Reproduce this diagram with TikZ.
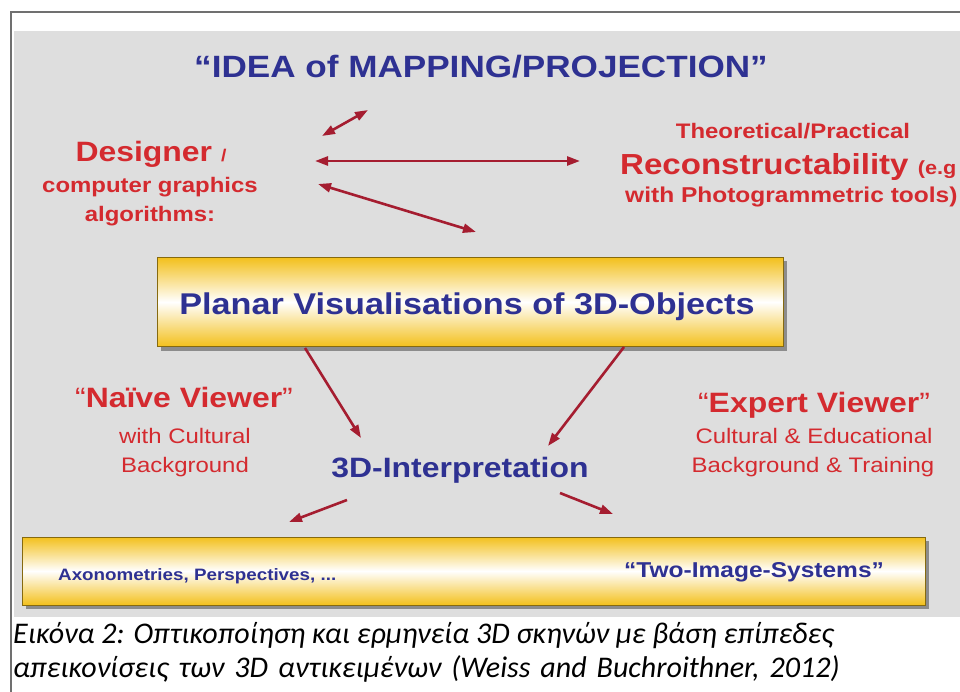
\documentclass[tikz,border=0pt]{standalone}
\usepackage{fontspec}
\setmainfont{Liberation Sans}[FakeStretch=1.14]
\newfontfamily\captionfont{Carlito}
\usetikzlibrary{arrows.meta,shadows}

\definecolor{panelgray}{HTML}{DEDEDE}
\definecolor{framegray}{HTML}{707070}
\definecolor{ideablue}{HTML}{2E3192}
\definecolor{viewred}{HTML}{D42A2F}
\definecolor{arrowred}{HTML}{A51D30}
\definecolor{bargold}{HTML}{F3C01C}

\tikzset{
  txt/.style={inner sep=0pt, anchor=base},
  bluelabel/.style={txt, text=ideablue, font=\bfseries\fontsize{#1}{#1}\selectfont},
  redlabel/.style={txt, text=viewred, font=\bfseries\fontsize{#1}{#1}\selectfont},
  redplain/.style={txt, text=viewred, font=\fontsize{#1}{#1}\selectfont},
  goldbar/.style={draw=bargold!55!black, line width=0.6pt, top color=bargold,
    bottom color=bargold, middle color=white, inner sep=0pt,
    drop shadow={shadow xshift=4pt, shadow yshift=-4pt, fill=black!45, opacity=1}},
  captext/.style={anchor=base west, inner sep=0pt, font=\captionfont\itshape\fontsize{30}{34}\selectfont},
  >={Triangle[length=13pt,width=9pt]},
  oneway/.style={draw=arrowred, line width=2.6pt, ->},
  twoway/.style={draw=arrowred, line width=2.6pt, <->},
}

\begin{document}
\begin{tikzpicture}[x=1pt,y=-1pt]
\useasboundingbox (0,0) rectangle (960,692);
\clip (0,0) rectangle (960,692);
% panel and frame
\fill[panelgray] (14,31) rectangle (960,617);
\draw[framegray, line width=1.3pt] (11,692) -- (11,12) -- (960,12);

% heading
\node[bluelabel=30.8] (idea) at (481,78) {“IDEA of MAPPING/PROJECTION”};

% left block: who makes the pictures
\node[redlabel=28] (designer) at (151,162) {Designer {\fontsize{17}{17}\selectfont/}};
\node[redlabel=21] (cgraph) at (150,193) {computer graphics};
\node[redlabel=21] (algo) at (150,222) {algorithms:};

% right block: reconstruction
\node[redlabel=21] (theory) at (793,139) {Theoretical/Practical};
\node[redlabel=29, anchor=base west] (recon) at (620,175) {Reconstructability {\fontsize{19}{19}\selectfont(e.g}};
\node[redlabel=21.5, anchor=base west] (photo) at (625,203) {with Photogrammetric tools)};

% central bar
\node[goldbar, minimum width=626, minimum height=89] (planar) at (470,302) {};
\node[bluelabel=30] (planartxt) at (467,315) {Planar Visualisations of 3D-Objects};

% the two viewers
\node[redlabel=28] (naive) at (184,407) {{\mdseries“}Naïve Viewer{\mdseries”}};
\node[redplain=21] (naivea) at (185,443) {with Cultural};
\node[redplain=21] (naiveb) at (185,472) {Background};
\node[redlabel=28] (expert) at (814,412) {{\mdseries“}Expert Viewer{\mdseries”}};
\node[redplain=21] (experta) at (814,443) {Cultural \& Educational};
\node[redplain=21] (expertb) at (813,472) {Background \& Training};
\node[bluelabel=28] (interp) at (460,477) {3D-Interpretation};

% bottom bar
\node[goldbar, minimum width=903, minimum height=68] (techbar) at (473.5,571) {};
\node[bluelabel=16.5, anchor=base west] (axono) at (58,580) {Axonometries, Perspectives, ...};
\node[bluelabel=21.5, anchor=base west] (twoimg) at (624,577) {“Two-Image-Systems”};

% arrow ends
\coordinate (dsgA) at (322,136);  \coordinate (ideaA) at (368,110);
\coordinate (dsgB) at (315,161);  \coordinate (recB) at (580,161);
\coordinate (dsgC) at (318,184);  \coordinate (visC) at (476,232);
\coordinate (visL) at (305,348);  \coordinate (interpL) at (361,438);
\coordinate (visR) at (624,347);  \coordinate (interpR) at (548,446);
\coordinate (interpA) at (347,500); \coordinate (axoT) at (289,522);
\coordinate (interpB) at (560,493); \coordinate (twoT) at (613,514);

\draw[twoway] (dsgA) -- (ideaA);
\draw[twoway] (dsgB) -- (recB);
\draw[twoway] (dsgC) -- (visC);
\draw[oneway] (visL) -- (interpL);
\draw[oneway] (visR) -- (interpR);
\draw[oneway] (interpA) -- (axoT);
\draw[oneway] (interpB) -- (twoT);

% caption, second line set with slightly wider word spaces
\node[captext] (cap1) at (13,643)
  {Εικόνα 2: Οπτικοποίηση και ερμηνεία 3D σκηνών με βάση επίπεδες};
\node[captext] (cap2) at (13,677)
  {\spaceskip=10pt απεικονίσεις των 3D αντικειμένων (Weiss and Buchroithner, 2012)};
\end{tikzpicture}
\end{document}
